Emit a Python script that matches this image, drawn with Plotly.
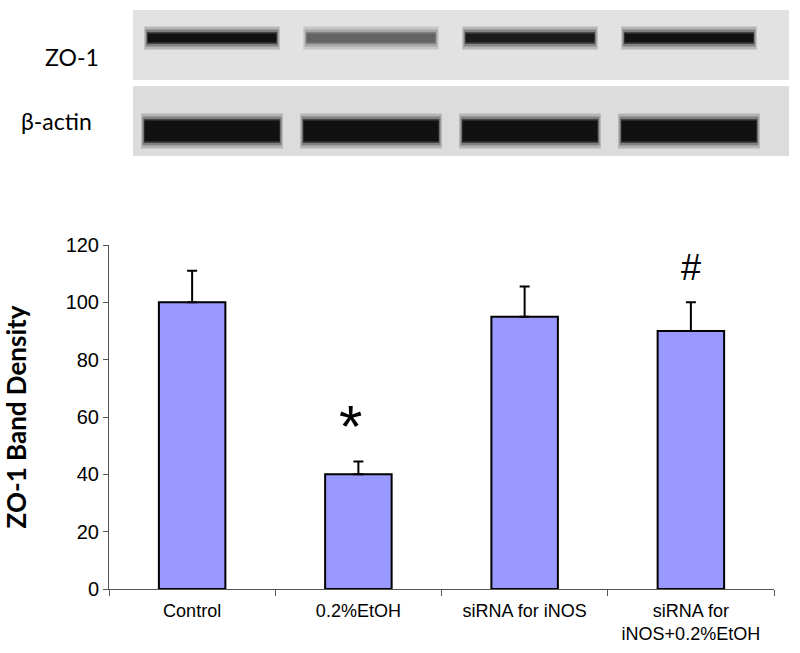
import plotly.graph_objects as go

# bar chart data
groups = ["Control", "0.2%EtOH", "siRNA for iNOS", "siRNA for<br>iNOS+0.2%EtOH"]
density = [100, 40, 95, 90]
density_err = [11, 4.5, 10.5, 10]
marks = ["", "*", "", "#"]
mark_y = [0, 60, 0, 112]

# western blot (relative band intensity per lane)
lanes = [1, 2, 3, 4]
zo1_band = [1.0, 0.6, 0.95, 1.0]
actin_band = [1.0, 1.0, 1.0, 1.0]


def gray(v):
    g = int(222 - v * 205)
    return f"rgb({g},{g},{g})"


fig = go.Figure()

fig.add_trace(go.Bar(
    x=groups, y=density,
    marker=dict(color="#9999ff", line=dict(color="black", width=2)),
    error_y=dict(type="data", array=density_err, arrayminus=[0] * 4,
                 symmetric=False, color="black", thickness=2, width=5),
    width=0.4, showlegend=False,
))

# blot bands: soft layers + dark core
for band, mid, core, w in [(zo1_band, 38, 9, 0.81), (actin_band, 131, 21, 0.85)]:
    for extra, k in [(14, 0.2), (8, 0.45), (3, 0.75), (0, 1.0)]:
        fig.add_trace(go.Bar(
            x=lanes, y=[core + extra] * 4, base=[mid - (core + extra) / 2] * 4,
            width=w + extra * 0.003,
            marker=dict(color=[gray(v * k) for v in band], line_width=0),
            xaxis="x2", yaxis="y2", showlegend=False,
        ))

for g, m, yy in zip(groups, marks, mark_y):
    if m:
        fig.add_annotation(x=g, y=yy, text=m, showarrow=False,
                           font=dict(family="Liberation Sans", size=60 if m == "*" else 36, color="black"),
                           xshift=-8 if m == "*" else 0, yshift=-9 if m == "*" else 0)

# blot panel backgrounds
fig.add_shape(type="rect", xref="x2 domain", yref="y2", x0=0, x1=1, y0=10, y1=80,
              fillcolor="#e2e2e2", line_width=0, layer="below")
fig.add_shape(type="rect", xref="x2 domain", yref="y2", x0=0, x1=1, y0=86, y1=156,
              fillcolor="#dcdcdc", line_width=0, layer="below")

fig.add_annotation(xref="paper", yref="paper", x=72 / 800, y=1 - 57 / 653, text="ZO-1",
                   xanchor="center", yanchor="middle",
                   showarrow=False, font=dict(family="Lato", size=23, color="black"))
fig.add_annotation(xref="paper", yref="paper", x=56 / 800, y=1 - 121 / 653, text="β-actin",
                   xanchor="center", yanchor="middle",
                   showarrow=False, font=dict(family="Lato", size=23, color="black"))

fig.update_layout(
    width=800, height=653,
    margin=dict(l=0, r=0, t=0, b=0, autoexpand=False),
    paper_bgcolor="white", plot_bgcolor="rgba(0,0,0,0)",
    barmode="overlay",
    xaxis=dict(domain=[109 / 800, 774 / 800], showline=True, linecolor="#555", linewidth=1,
               ticks="outside", tickson="boundaries", ticklen=6, tickcolor="#555",
               ticklabelstandoff=5,
               tickfont=dict(family="Liberation Sans", size=18, color="black"),
               showgrid=False, anchor="y", automargin=False),
    yaxis=dict(domain=[1 - 589 / 653, 1 - 245 / 653], range=[0, 120], dtick=20,
               showline=True, linecolor="#555", linewidth=1, ticks="outside", ticklen=5,
               tickcolor="#555", showgrid=False, zeroline=False, automargin=False,
               tickfont=dict(family="Liberation Sans", size=20, color="black"),
               title=dict(text="<b>ZO-1 Band Density</b>", standoff=31,
                          font=dict(family="Lato", size=26, color="black"))),
    xaxis2=dict(domain=[133 / 800, 789 / 800], range=[0.503, 4.629], visible=False,
                anchor="y2", automargin=False),
    yaxis2=dict(domain=[1 - 156 / 653, 1 - 10 / 653], range=[156, 10], visible=False,
                anchor="x2", automargin=False),
)

fig.write_html("out.html", config={"displayModeBar": False},
               post_script="document.body.style.margin='0px';")
